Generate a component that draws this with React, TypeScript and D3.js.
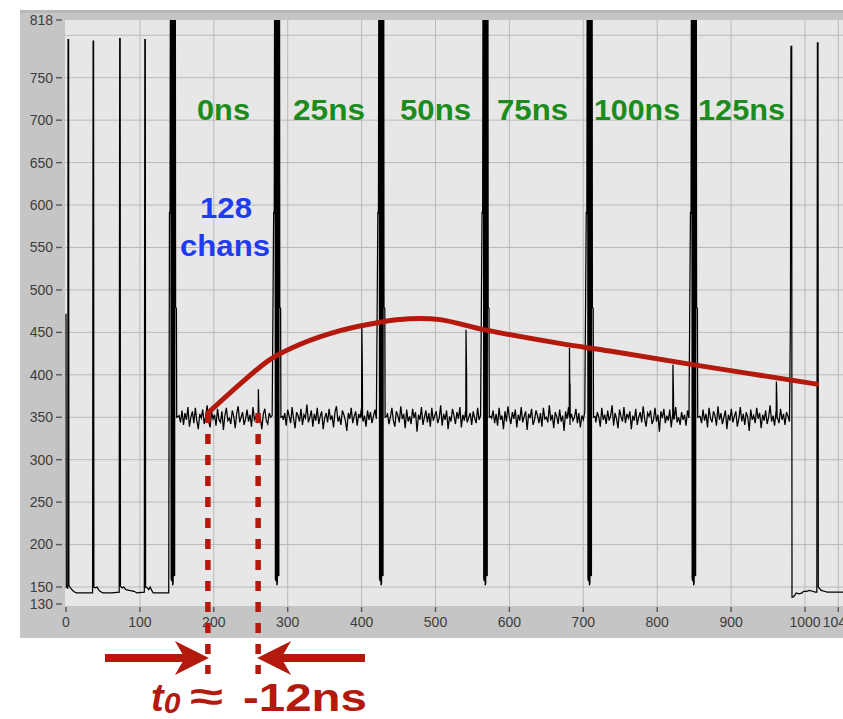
import React from 'react'
import * as d3 from 'd3'

const W = 843
const H = 719

// plot area in px
const PLOT = { left: 65, right: 843, top: 20, bottom: 606 }

const X_DOMAIN = [0, 1050]
const Y_DOMAIN = [130, 818]
const X_TICKS = [0, 100, 200, 300, 400, 500, 600, 700, 800, 900, 1000, 1045]
const Y_TICKS = [130, 150, 200, 250, 300, 350, 400, 450, 500, 550, 600, 650, 700, 750, 818]
const Y_GRID = [150, 200, 250, 300, 350, 400, 450, 500, 550, 600, 650, 700, 750, 800]

// header bits before the first channel block
const headerTrace = [
  [0, 472], [0.4, 150], [1.5, 151], [2.4, 148], [2.8, 795], [3.5, 795], [3.9, 152], [6, 149], [8, 147],
  [10, 145], [14, 143], [24, 143], [36, 143], [36.3, 472], [36.7, 793], [37.3, 793], [37.7, 150],
  [40, 149], [42, 150], [44, 147], [46, 145], [50, 143], [62, 143], [72, 144], [72.3, 473], [72.7, 796],
  [73.3, 796], [73.7, 151], [76, 149], [78, 150], [81, 147], [86, 146], [92, 145], [96, 143], [106, 144],
  [106.3, 473], [106.7, 795], [107.3, 795], [107.7, 150], [110, 149], [112, 147], [114, 150], [116, 146],
  [118, 143], [128, 143], [139, 143],
]

// dense bit bursts between channel blocks
const burstStarts = [140, 281, 422, 563, 704, 845]
const burstShape = [
  [0, 592], [0.8, 590], [1.2, 820], [2.0, 820], [2.3, 160], [3.0, 157], [3.3, 822], [4.0, 822],
  [4.3, 152], [5.0, 155], [5.3, 812], [6.0, 822], [6.3, 165], [7.0, 163], [7.3, 820], [8.0, 820],
  [8.3, 480], [9.4, 478], [9.8, 350], [12, 351],
]

// 128-channel noise blocks
const noiseStarts = [153, 294, 435, 576, 717, 858]
const noiseEnds = [279, 420, 561, 702, 843, 979]
const noise1 = [352, 344, 358, 341, 355, 347, 362, 339, 350, 357, 343, 361, 346, 336, 354, 349, 359, 342, 351, 364, 345, 338, 356, 348, 353, 340, 360, 347, 344, 357, 335, 352, 361, 346, 349, 342, 358, 351, 337, 355, 363, 344, 350, 356, 341, 348, 359, 345, 353, 339, 362, 347, 351, 343, 357, 349, 336, 354, 360, 346, 342, 355, 350, 352]
const noise2 = [347, 355, 340, 359, 351, 343, 362, 348, 337, 356, 352, 345, 360, 341, 353, 349, 365, 344, 350, 358, 339, 354, 346, 361, 342, 351, 357, 336, 349, 355, 344, 360, 347, 352, 338, 356, 363, 345, 350, 341, 358, 353, 346, 334, 355, 348, 361, 343, 351, 357, 340, 354, 349, 362, 345, 352, 339, 358, 347, 356, 343, 351, 359, 348]
const noise3 = [355, 342, 350, 361, 346, 339, 357, 352, 344, 363, 348, 354, 337, 359, 345, 351, 342, 360, 349, 356, 333, 353, 347, 362, 341, 350, 358, 344, 355, 339, 361, 346, 352, 357, 343, 349, 364, 340, 354, 347, 358, 336, 351, 345, 360, 352, 342, 356, 348, 362, 338, 353, 346, 359, 344, 350, 355, 341, 357, 349, 343, 361, 347, 352]
const noise4 = [349, 358, 343, 354, 340, 361, 347, 352, 336, 357, 345, 363, 350, 342, 356, 348, 359, 338, 353, 346, 362, 344, 351, 357, 335, 354, 349, 360, 341, 347, 358, 352, 343, 355, 339, 361, 348, 350, 344, 364, 346, 353, 337, 356, 351, 342, 359, 345, 352, 334, 357, 348, 362, 341, 354, 346, 350, 360, 343, 355, 338, 352, 347, 356]
const noise5 = [344, 356, 350, 339, 361, 347, 353, 342, 358, 346, 352, 364, 340, 355, 348, 337, 359, 351, 345, 362, 343, 354, 349, 357, 336, 352, 346, 360, 341, 350, 356, 344, 363, 348, 339, 355, 351, 358, 342, 347, 361, 345, 353, 333, 357, 349, 360, 343, 352, 346, 359, 338, 354, 348, 362, 344, 350, 341, 356, 347, 353, 340, 358, 349]
const noise6 = [351, 343, 359, 346, 354, 338, 361, 349, 344, 357, 352, 340, 363, 347, 355, 342, 350, 358, 336, 353, 346, 360, 344, 351, 357, 339, 348, 362, 345, 354, 341, 356, 350, 334, 359, 347, 352, 343, 361, 348, 355, 337, 353, 346, 358, 342, 350, 364, 345, 352, 340, 357, 349, 343, 360, 347, 354, 341, 356, 351, 345]
const noiseBlocks = [noise1, noise2, noise3, noise4, noise5, noise6]

// the one channel that fired in each time slice
const spikeX = [260, 400, 541, 681, 821, 961]
const spikeMid = [359, 406, 402, 390, 379, 368]
const spikeTop = [383, 461, 453, 432, 412, 392]

// trailer after the last block
const trailerTrace = [
  [980.3, 470], [981, 787], [982, 787], [982.4, 138], [984, 138], [986, 140], [988, 143], [992, 142],
  [996, 143], [998, 145], [1002, 145], [1006, 146], [1010, 145], [1014, 144], [1016, 144], [1016.4, 470],
  [1016.8, 791], [1017.6, 791], [1018, 150], [1020, 148], [1022, 146], [1026, 145], [1030, 144],
  [1040, 144], [1052, 144],
]

// shaper pulse reconstructed from the spike heights
const pulseFit = [
  [192, 355], [242, 394], [276, 418], [317, 436], [371, 452], [425, 462], [465, 466], [506, 465],
  [567, 453], [668, 437], [736, 428], [848, 412], [1016, 389],
]
const t0Lines = [192, 260]

const delayLabels = ['0ns', '25ns', '50ns', '75ns', '100ns', '125ns']
const delayLabelLeft = [197, 293, 400, 497, 594, 698]
const delayLabelWidth = [53, 72, 71, 71, 86, 87]

const RED = '#b3190c'
const FONT = '"Liberation Sans", Arial, Helvetica, sans-serif'

function buildTrace() {
  const pts: number[][] = [...headerTrace]
  burstStarts.forEach((b, i) => {
    burstShape.forEach(([dx, y]) => pts.push([b + dx, y]))
    const vals = noiseBlocks[i]
    const s = noiseStarts[i]
    const e = noiseEnds[i]
    const step = (e - s) / (vals.length - 1)
    const seg: number[][] = vals.map((v, k) => [s + k * step, v])
    const sx = spikeX[i]
    seg.push([sx, 350], [sx + 0.3, spikeTop[i]], [sx + 1.0, spikeMid[i]], [sx + 1.3, 348])
    seg.sort((a, c) => a[0] - c[0])
    pts.push(...seg)
  })
  pts.push(...trailerTrace)
  return pts
}

function arrowPath(tail: number, tip: number, y: number) {
  const dir = Math.sign(tip - tail)
  const back = tip - dir * 34
  const half = 17
  const shaft = 4
  const join = back + dir * 7.6
  return `M${tail},${y - shaft} L${join},${y - shaft} L${back},${y - half} L${tip},${y} L${back},${y + half} L${join},${y + shaft} L${tail},${y + shaft} Z`
}

export default function App() {
  const x = d3.scaleLinear().domain(X_DOMAIN).range([66, 66 + 1050 * 0.739])
  const y = d3.scaleLinear().domain(Y_DOMAIN).range([604, 20])

  const trace = buildTrace()
  const line = d3.line<number[]>().x(d => x(d[0])).y(d => y(d[1]))
  const pulse = d3.line<number[]>().x(d => x(d[0])).y(d => y(d[1])).curve(d3.curveCatmullRom.alpha(0.5))

  const arrowY = 658

  return (
    <svg width={W} height={H} style={{ position: 'absolute', left: 0, top: 0, background: '#fff' }}>
      <defs>
        <clipPath id="plotClip">
          <rect x={PLOT.left} y={PLOT.top} width={PLOT.right - PLOT.left} height={PLOT.bottom - PLOT.top} />
        </clipPath>
      </defs>

      {/* instrument frame */}
      <rect x={20} y={10} width={W - 20} height={628} fill="#c5c5c5" />
      <rect x={20} y={10} width={W - 20} height={3} fill="#b8b8b8" />
      <rect x={PLOT.left} y={PLOT.top} width={PLOT.right - PLOT.left} height={PLOT.bottom - PLOT.top} fill="#e7e7e7" />

      {/* grid */}
      {Y_GRID.map(v => (
        <line key={'gy' + v} x1={PLOT.left} x2={PLOT.right} y1={y(v)} y2={y(v)} stroke="#b9b9b9" strokeWidth={1} />
      ))}
      {X_TICKS.filter(v => v > 0).map(v => (
        <line key={'gx' + v} x1={x(v)} x2={x(v)} y1={PLOT.top} y2={PLOT.bottom} stroke="#b9b9b9" strokeWidth={1} />
      ))}

      {/* y axis */}
      {Y_TICKS.map(v => (
        <g key={'ty' + v}>
          <line x1={56} x2={62} y1={y(v)} y2={y(v)} stroke="#555" strokeWidth={1.4} />
          <text x={53} y={y(v)} dy="0.35em" textAnchor="end" fontSize={14} fill="#3c3c3c" fontFamily={FONT}>
            {v}
          </text>
        </g>
      ))}

      {/* x axis */}
      {X_TICKS.map(v => (
        <g key={'tx' + v}>
          <line x1={x(v)} x2={x(v)} y1={607} y2={612} stroke="#555" strokeWidth={1.4} />
          <text x={x(v)} y={627} textAnchor="middle" fontSize={14} fill="#3c3c3c" fontFamily={FONT}>
            {v}
          </text>
        </g>
      ))}

      {/* raw trace */}
      <g clipPath="url(#plotClip)">
        <path d={line(trace) || ''} fill="none" stroke="#000" strokeWidth={1.25} strokeLinejoin="miter" />
      </g>

      {/* labels */}
      {delayLabels.map((t, i) => (
        <text key={t} x={delayLabelLeft[i]} y={120} fontSize={29} fontWeight="bold" fill="#1c8c1c"
          fontFamily={FONT} textLength={delayLabelWidth[i]} lengthAdjust="spacingAndGlyphs">
          {t}
        </text>
      ))}
      <text x={226} y={218} textAnchor="middle" fontSize={30} fontWeight="bold" fill="#1f3cf2" fontFamily={FONT}
        textLength={52} lengthAdjust="spacingAndGlyphs">128</text>
      <text x={225} y={256} textAnchor="middle" fontSize={30} fontWeight="bold" fill="#1f3cf2" fontFamily={FONT}
        textLength={90} lengthAdjust="spacingAndGlyphs">chans</text>

      {/* fitted pulse */}
      <path d={pulse(pulseFit) || ''} fill="none" stroke={RED} strokeWidth={5} strokeLinecap="round" />

      {/* t0 markers */}
      {t0Lines.map(v => (
        <line key={'t0' + v} x1={x(v)} x2={x(v)} y1={y(v === t0Lines[0] ? pulseFit[0][1] : 355)} y2={674}
          stroke={RED} strokeWidth={5.5} strokeDasharray="10,11" />
      ))}
      <path d={arrowPath(105, x(t0Lines[0]) + 1, arrowY)} fill={RED} />
      <path d={arrowPath(365, x(t0Lines[1]) - 1, arrowY)} fill={RED} />

      <text x={151} y={711} fontSize={38} fontWeight="bold" fill={RED} fontFamily={FONT} fontStyle="italic">
        t<tspan fontSize={30} dy={2}>0</tspan>
      </text>
      <text x={190} y={710} fontSize={40} fontWeight="bold" fill={RED} fontFamily={FONT}
        textLength={33} lengthAdjust="spacingAndGlyphs">≈</text>
      <text x={243} y={711} fontSize={38} fontWeight="bold" fill={RED} fontFamily={FONT}
        textLength={124} lengthAdjust="spacingAndGlyphs">-12ns</text>
    </svg>
  )
}
